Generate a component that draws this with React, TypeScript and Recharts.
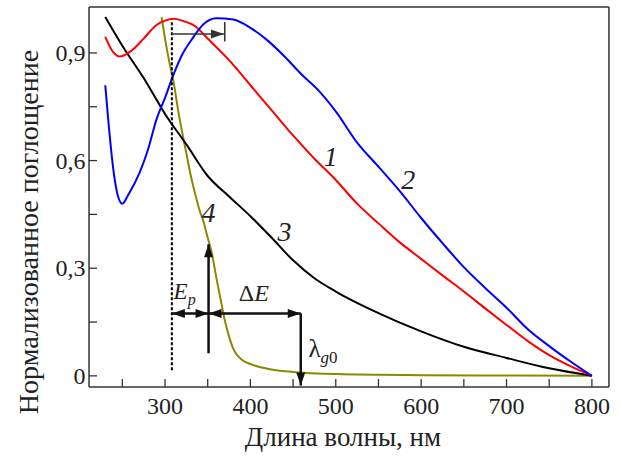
import React from "react";
import {
  LineChart,
  Line,
  XAxis,
  YAxis,
  ReferenceLine,
  ReferenceDot
} from "recharts";

// curve 1 (red)
const wl1 = [230, 240, 247, 260, 275, 290, 300, 310, 320, 335, 350, 375, 400, 425, 450, 475, 500, 525, 550, 575, 600, 625, 650, 675, 700, 725, 750, 775, 800];
const abs1 = [0.945, 0.9, 0.89, 0.905, 0.94, 0.978, 0.99, 0.995, 0.99, 0.975, 0.94, 0.88, 0.81, 0.74, 0.67, 0.605, 0.546, 0.48, 0.425, 0.372, 0.326, 0.28, 0.235, 0.188, 0.142, 0.097, 0.058, 0.027, 0];

// curve 2 (blue)
const wl2 = [230, 234, 240, 245, 250, 257, 270, 280, 290, 300, 310, 320, 332, 345, 360, 380, 400, 420, 440, 460, 480, 500, 525, 550, 575, 600, 625, 650, 675, 700, 725, 750, 775, 800];
const abs2 = [0.81, 0.7, 0.565, 0.5, 0.48, 0.505, 0.565, 0.63, 0.715, 0.775, 0.84, 0.895, 0.94, 0.98, 0.997, 0.993, 0.97, 0.935, 0.89, 0.84, 0.795, 0.737, 0.65, 0.583, 0.515, 0.44, 0.37, 0.303, 0.245, 0.19, 0.13, 0.083, 0.04, 0];

// curve 3 (black)
const wl3 = [230, 250, 275, 300, 325, 350, 375, 400, 425, 450, 475, 500, 550, 600, 650, 700, 750, 800];
const abs3 = [1.0, 0.92, 0.83, 0.73, 0.645, 0.557, 0.5, 0.445, 0.385, 0.322, 0.272, 0.235, 0.175, 0.124, 0.081, 0.05, 0.021, 0];

// curve 4 (olive)
const wl4 = [296, 300, 305, 310, 315, 320, 325, 330, 335, 340, 345, 350, 355, 360, 365, 370, 375, 380, 390, 400, 420, 450, 500, 600, 700, 800];
const abs4 = [1.0, 0.94, 0.875, 0.82, 0.745, 0.68, 0.62, 0.56, 0.51, 0.465, 0.43, 0.385, 0.34, 0.275, 0.215, 0.155, 0.11, 0.075, 0.045, 0.033, 0.02, 0.011, 0.005, 0.002, 0.001, 0];

const xTicks = [250, 300, 350, 400, 450, 500, 550, 600, 650, 700, 750, 800];
const yTicks = [0, 0.15, 0.3, 0.45, 0.6, 0.75, 0.9];
const yLabels: Record<string, string> = { "0": "0", "0.3": "0,3", "0.6": "0,6", "0.9": "0,9" };
// frame limits and a slightly wider plotting domain
const frameX = [211, 820];
const frameY = [-0.031, 1.028];
const xDomain = [209.2, 821.8];
const yDomain = [-0.0352, 1.0322];

// annotation positions (nm, normalized absorbance)
const lambdaP = 308;
const lambdaA = 351;
const lambdaG0 = 459;
const lambdaPeakShift = 370;

const toPoints = (wl: number[], a: number[]) => wl.map((x, i) => ({ x, y: a[i] }));
const curve1 = toPoints(wl1, abs1);
const curve2 = toPoints(wl2, abs2);
const curve3 = toPoints(wl3, abs3);
const curve4 = toPoints(wl4, abs4);

const FRAME = "#333";
const FONT = "Liberation Serif";

const T = (props: any) => <text fontFamily={FONT} fill="#222" {...props} />;

const XTick = (props: any) => {
  const { x, y, payload } = props;
  const major = payload.value % 100 === 0;
  return (
    <g>
      <line x1={x} y1={y - 1.5} x2={x} y2={y - 9.5} stroke="#333" strokeWidth={1.3} />
      {major && (
        <T x={x} y={y + 25} textAnchor="middle" fontSize={24}>
          {payload.value}
        </T>
      )}
    </g>
  );
};

const YTick = (props: any) => {
  const { x, y, payload } = props;
  const label = yLabels[String(payload.value)];
  return (
    <g>
      <line x1={x + 1.5} y1={y} x2={x + 9.5} y2={y} stroke="#333" strokeWidth={1.3} />
      {label && (
        <T x={x - 2} y={y + 8} textAnchor="end" fontSize={24}>
          {label}
        </T>
      )}
    </g>
  );
};

const head = (tx: number, ty: number, fx: number, fy: number, len = 13, w = 4.5) => {
  const dx = tx - fx;
  const dy = ty - fy;
  const d = Math.hypot(dx, dy) || 1;
  const ux = dx / d;
  const uy = dy / d;
  const bx = tx - ux * len;
  const by = ty - uy * len;
  return `${tx},${ty} ${bx - uy * w},${by + ux * w} ${bx + uy * w},${by - ux * w}`;
};

const arrow = (both: boolean, color = "#111", width = 2.5) => (p: any) => {
  const { x1, y1, x2, y2 } = p;
  return (
    <g>
      <line x1={x1} y1={y1} x2={x2} y2={y2} stroke={color} strokeWidth={width} />
      <polygon points={head(x2, y2, x1, y1)} fill={color} />
      {both && <polygon points={head(x1, y1, x2, y2)} fill={color} />}
    </g>
  );
};

const plain = (color: string, width: number) => (p: any) => (
  <line x1={p.x1} y1={p.y1} x2={p.x2} y2={p.y2} stroke={color} strokeWidth={width} />
);

const textAt = (content: React.ReactNode, size: number, anchor = "middle") => (p: any) => (
  <T x={p.cx} y={p.cy} textAnchor={anchor} fontSize={size}>
    {content}
  </T>
);

const curveLabel = (s: string) => textAt(<tspan fontStyle="italic">{s}</tspan>, 28);

export default function App() {
  return (
    <div style={{ position: "absolute", left: 0, top: 0, width: 621, height: 457, background: "#fff" }}>
      <LineChart
        width={621}
        height={457}
        margin={{ top: 5.5, right: 10.5, bottom: 67.5, left: 86.5 }}
      >
        <XAxis
          dataKey="x"
          type="number"
          domain={xDomain}
          ticks={xTicks}
          interval={0}
          allowDataOverflow
          height={1}
          tickSize={0}
          tickMargin={0}
          tickLine={false}
          axisLine={false}
          tick={<XTick />}
        />
        <YAxis
          type="number"
          domain={yDomain}
          ticks={yTicks}
          interval={0}
          allowDataOverflow
          width={1}
          tickSize={0}
          tickMargin={0}
          tickLine={false}
          axisLine={false}
          tick={<YTick />}
        />

        {/* plot frame */}
        <ReferenceLine segment={[{ x: frameX[0], y: frameY[0] }, { x: frameX[0], y: frameY[1] }]} shape={plain(FRAME, 1.5)} />
        <ReferenceLine segment={[{ x: frameX[1], y: frameY[0] }, { x: frameX[1], y: frameY[1] }]} shape={plain(FRAME, 1.5)} />
        <ReferenceLine segment={[{ x: frameX[0], y: frameY[0] }, { x: frameX[1], y: frameY[0] }]} shape={plain(FRAME, 1.5)} />
        <ReferenceLine segment={[{ x: frameX[0], y: frameY[1] }, { x: frameX[1], y: frameY[1] }]} shape={plain(FRAME, 1.5)} />

        <Line data={curve4} dataKey="y" type="monotone" stroke="#8a8a00" strokeWidth={2} dot={false} isAnimationActive={false} />
        <Line data={curve3} dataKey="y" type="monotone" stroke="#000" strokeWidth={2} dot={false} isAnimationActive={false} />
        <Line data={curve1} dataKey="y" type="monotone" stroke="#ff0000" strokeWidth={2} dot={false} isAnimationActive={false} />
        <Line data={curve2} dataKey="y" type="monotone" stroke="#0000ff" strokeWidth={2} dot={false} isAnimationActive={false} />

        {/* dotted marker of the excitation edge */}
        <ReferenceLine
          segment={[{ x: lambdaP, y: 0.016 }, { x: lambdaP, y: 0.988 }]}
          stroke="#000"
          strokeWidth={2}
          strokeDasharray="3 2"
        />
        {/* peak shift arrow at the top */}
        <ReferenceLine
          segment={[{ x: lambdaP, y: 0.953 }, { x: lambdaPeakShift - 1, y: 0.953 }]}
          shape={arrow(false, "#333", 1.5)}
        />
        <ReferenceLine
          segment={[{ x: lambdaPeakShift, y: 0.932 }, { x: lambdaPeakShift, y: 0.986 }]}
          shape={plain("#333", 1.5)}
        />
        {/* E_p, ΔE and λ_g0 arrows */}
        <ReferenceLine
          segment={[{ x: lambdaA, y: 0.063 }, { x: lambdaA, y: 0.367 }]}
          shape={arrow(false)}
        />
        <ReferenceLine
          segment={[{ x: lambdaP, y: 0.174 }, { x: lambdaA, y: 0.174 }]}
          shape={arrow(true)}
        />
        <ReferenceLine
          segment={[{ x: lambdaA, y: 0.174 }, { x: lambdaG0, y: 0.174 }]}
          shape={arrow(true)}
        />
        <ReferenceLine
          segment={[{ x: lambdaG0, y: 0.174 }, { x: lambdaG0, y: -0.027 }]}
          shape={arrow(false)}
        />

        <ReferenceDot
          x={323}
          y={0.213}
          r={0}
          shape={textAt(
            <>
              <tspan fontStyle="italic">E</tspan>
              <tspan fontStyle="italic" fontSize={16} dy={6}>p</tspan>
            </>,
            23
          )}
        />
        <ReferenceDot
          x={404}
          y={0.21}
          r={0}
          shape={textAt(
            <>
              <tspan>Δ</tspan>
              <tspan fontStyle="italic">E</tspan>
            </>,
            24
          )}
        />
        <ReferenceDot
          x={468}
          y={0.052}
          r={0}
          shape={textAt(
            <>
              <tspan>λ</tspan>
              <tspan fontSize={17} dy={6}>
                <tspan fontStyle="italic">g</tspan>0
              </tspan>
            </>,
            25,
            "start"
          )}
        />

        <ReferenceDot x={494} y={0.585} r={0} shape={curveLabel("1")} />
        <ReferenceDot x={585} y={0.52} r={0} shape={curveLabel("2")} />
        <ReferenceDot x={440} y={0.375} r={0} shape={curveLabel("3")} />
        <ReferenceDot x={351} y={0.43} r={0} shape={curveLabel("4")} />

        <T x={343} y={446} textAnchor="middle" fontSize={27}>
          Длина волны, нм
        </T>
        <T x={38} y={232} textAnchor="middle" fontSize={28} transform="rotate(-90 38 232)">
          Нормализованное поглощение
        </T>
      </LineChart>
    </div>
  );
}
